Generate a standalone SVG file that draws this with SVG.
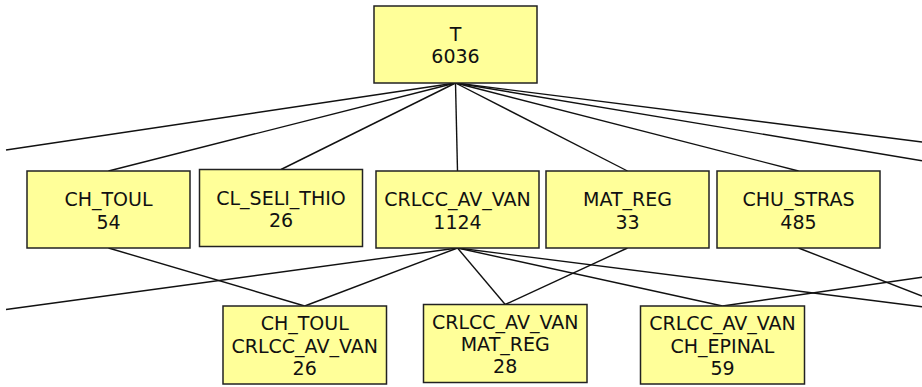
<svg xmlns="http://www.w3.org/2000/svg" width="922" height="387" viewBox="0 0 922 387">
<style>
.box{fill:#ffff99;stroke:#222;stroke-width:1.5}
.lbl{font-family:"DejaVu Sans",sans-serif;font-size:19px;fill:#111;text-anchor:middle}
.edge{stroke:#111;stroke-width:1.4;fill:none}
</style>
<rect width="922" height="387" fill="#ffffff"/>
<g id="connectors">
<line class="edge" x1="455.5" y1="83" x2="6" y2="150"/>
<line class="edge" x1="455.5" y1="83" x2="108.5" y2="171"/>
<line class="edge" x1="455.5" y1="83" x2="281" y2="169.5"/>
<line class="edge" x1="455.5" y1="83" x2="457.5" y2="171"/>
<line class="edge" x1="455.5" y1="83" x2="627.5" y2="171"/>
<line class="edge" x1="455.5" y1="83" x2="798.5" y2="171"/>
<line class="edge" x1="455.5" y1="83" x2="922" y2="142"/>
<line class="edge" x1="455.5" y1="83" x2="922" y2="160.7"/>
<line class="edge" x1="108.5" y1="248" x2="304.7" y2="306"/>
<line class="edge" x1="457.5" y1="248" x2="304.7" y2="306"/>
<line class="edge" x1="457.5" y1="248" x2="6" y2="309.5"/>
<line class="edge" x1="457.5" y1="248" x2="505.2" y2="304.5"/>
<line class="edge" x1="627.5" y1="248" x2="505.2" y2="304.5"/>
<line class="edge" x1="457.5" y1="248" x2="722.5" y2="306"/>
<line class="edge" x1="457.5" y1="248" x2="922" y2="306.7"/>
<line class="edge" x1="798.5" y1="248" x2="922" y2="296"/>
<line class="edge" x1="722.5" y1="306" x2="922" y2="277.3"/>
</g>
<g id="node-T">
<rect class="box" x="374" y="6" width="163" height="77"/>
<text class="lbl" x="455.5" y="41">T</text>
<text class="lbl" x="455.5" y="63">6036</text>
</g>
<g id="node-CH_TOUL">
<rect class="box" x="27" y="171" width="163" height="77"/>
<text class="lbl" x="108.5" y="206">CH_TOUL</text>
<text class="lbl" x="108.5" y="228.5">54</text>
</g>
<g id="node-CL_SELI_THIO">
<rect class="box" x="199.5" y="169.5" width="163" height="77"/>
<text class="lbl" x="281" y="204.5">CL_SELI_THIO</text>
<text class="lbl" x="281" y="227">26</text>
</g>
<g id="node-CRLCC_AV_VAN">
<rect class="box" x="376" y="171" width="163" height="77"/>
<text class="lbl" x="457.5" y="206">CRLCC_AV_VAN</text>
<text class="lbl" x="457.5" y="228.5">1124</text>
</g>
<g id="node-MAT_REG">
<rect class="box" x="546" y="171" width="163" height="77"/>
<text class="lbl" x="627.5" y="206">MAT_REG</text>
<text class="lbl" x="627.5" y="228.5">33</text>
</g>
<g id="node-CHU_STRAS">
<rect class="box" x="717" y="171" width="163" height="77"/>
<text class="lbl" x="798.5" y="206">CHU_STRAS</text>
<text class="lbl" x="798.5" y="228.5">485</text>
</g>
<g id="node-CH_TOUL-CRLCC_AV_VAN">
<rect class="box" x="223" y="306" width="163.5" height="78"/>
<text class="lbl" x="304.7" y="330">CH_TOUL</text>
<text class="lbl" x="304.7" y="352.7">CRLCC_AV_VAN</text>
<text class="lbl" x="304.7" y="375">26</text>
</g>
<g id="node-CRLCC_AV_VAN-MAT_REG">
<rect class="box" x="423.5" y="304.5" width="163.5" height="78"/>
<text class="lbl" x="505.2" y="328.5">CRLCC_AV_VAN</text>
<text class="lbl" x="505.2" y="351">MAT_REG</text>
<text class="lbl" x="505.2" y="373">28</text>
</g>
<g id="node-CRLCC_AV_VAN-CH_EPINAL">
<rect class="box" x="640.5" y="306" width="164" height="78"/>
<text class="lbl" x="722.5" y="330">CRLCC_AV_VAN</text>
<text class="lbl" x="722.5" y="352.7">CH_EPINAL</text>
<text class="lbl" x="722.5" y="375">59</text>
</g>
</svg>
